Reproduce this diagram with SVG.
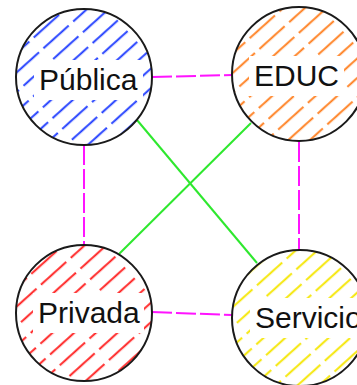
<svg xmlns="http://www.w3.org/2000/svg" width="357" height="385" viewBox="0 0 357 385">
<style>
.circ{stroke:#1a1a1a;stroke-width:2}
.lbl{font-family:"Liberation Sans",Arial,sans-serif;font-size:30px;fill:#111}
.box{fill:#fff}
.mag{stroke:#ff14ff;stroke-width:2;stroke-dasharray:20 4;fill:none}
.grn{stroke:#2ee82e;stroke-width:2;fill:none}
</style>
<defs>
<pattern id="hb" width="40" height="14.5" patternUnits="userSpaceOnUse" patternTransform="rotate(-42)"><rect width="40" height="14.5" fill="#fff"/><line x1="0" y1="7" x2="34" y2="7" stroke="#1f3cff" stroke-width="2"/></pattern>
<pattern id="ho" width="40" height="14.5" patternUnits="userSpaceOnUse" patternTransform="rotate(-42)"><rect width="40" height="14.5" fill="#fff"/><line x1="0" y1="7" x2="34" y2="7" stroke="#ff7f1f" stroke-width="2"/></pattern>
<pattern id="hr" width="40" height="14.5" patternUnits="userSpaceOnUse" patternTransform="rotate(-42)"><rect width="40" height="14.5" fill="#fff"/><line x1="0" y1="7" x2="34" y2="7" stroke="#ff1f1f" stroke-width="2"/></pattern>
<pattern id="hy" width="40" height="14.5" patternUnits="userSpaceOnUse" patternTransform="rotate(-42)"><rect width="40" height="14.5" fill="#fff"/><line x1="0" y1="7" x2="34" y2="7" stroke="#f5e600" stroke-width="2"/></pattern>
</defs>
<rect width="357" height="385" fill="#fff"/>
<g id="connectors">
<line class="mag" x1="152" y1="77" x2="232" y2="75"/>
<line class="mag" x1="152" y1="312" x2="232" y2="315"/>
<line class="mag" x1="84" y1="145" x2="84" y2="245"/>
<line class="mag" x1="299" y1="142" x2="299" y2="250"/>
<line class="grn" x1="137" y1="120" x2="257" y2="263"/>
<line class="grn" x1="251" y1="123" x2="119" y2="254"/>
</g>
<g id="publica">
<circle class="circ" cx="84" cy="77" r="68" fill="url(#hb)"/>
<rect class="box" x="34" y="60" width="109" height="40"/>
<text class="lbl" x="39" y="90">Pública</text>
</g>
<g id="educ">
<circle class="circ" cx="299" cy="74" r="67" fill="url(#ho)"/>
<rect class="box" x="249" y="56" width="95" height="40"/>
<text class="lbl" x="254" y="86">EDUC</text>
</g>
<g id="privada">
<circle class="circ" cx="84" cy="313" r="68" fill="url(#hr)"/>
<rect class="box" x="33" y="293" width="111" height="40"/>
<text class="lbl" x="38" y="323">Privada</text>
</g>
<g id="servicios">
<circle class="circ" cx="300" cy="318" r="68" fill="url(#hy)"/>
<rect class="box" x="250" y="298" width="140" height="40"/>
<text class="lbl" x="255" y="328">Servicios</text>
</g>
</svg>
